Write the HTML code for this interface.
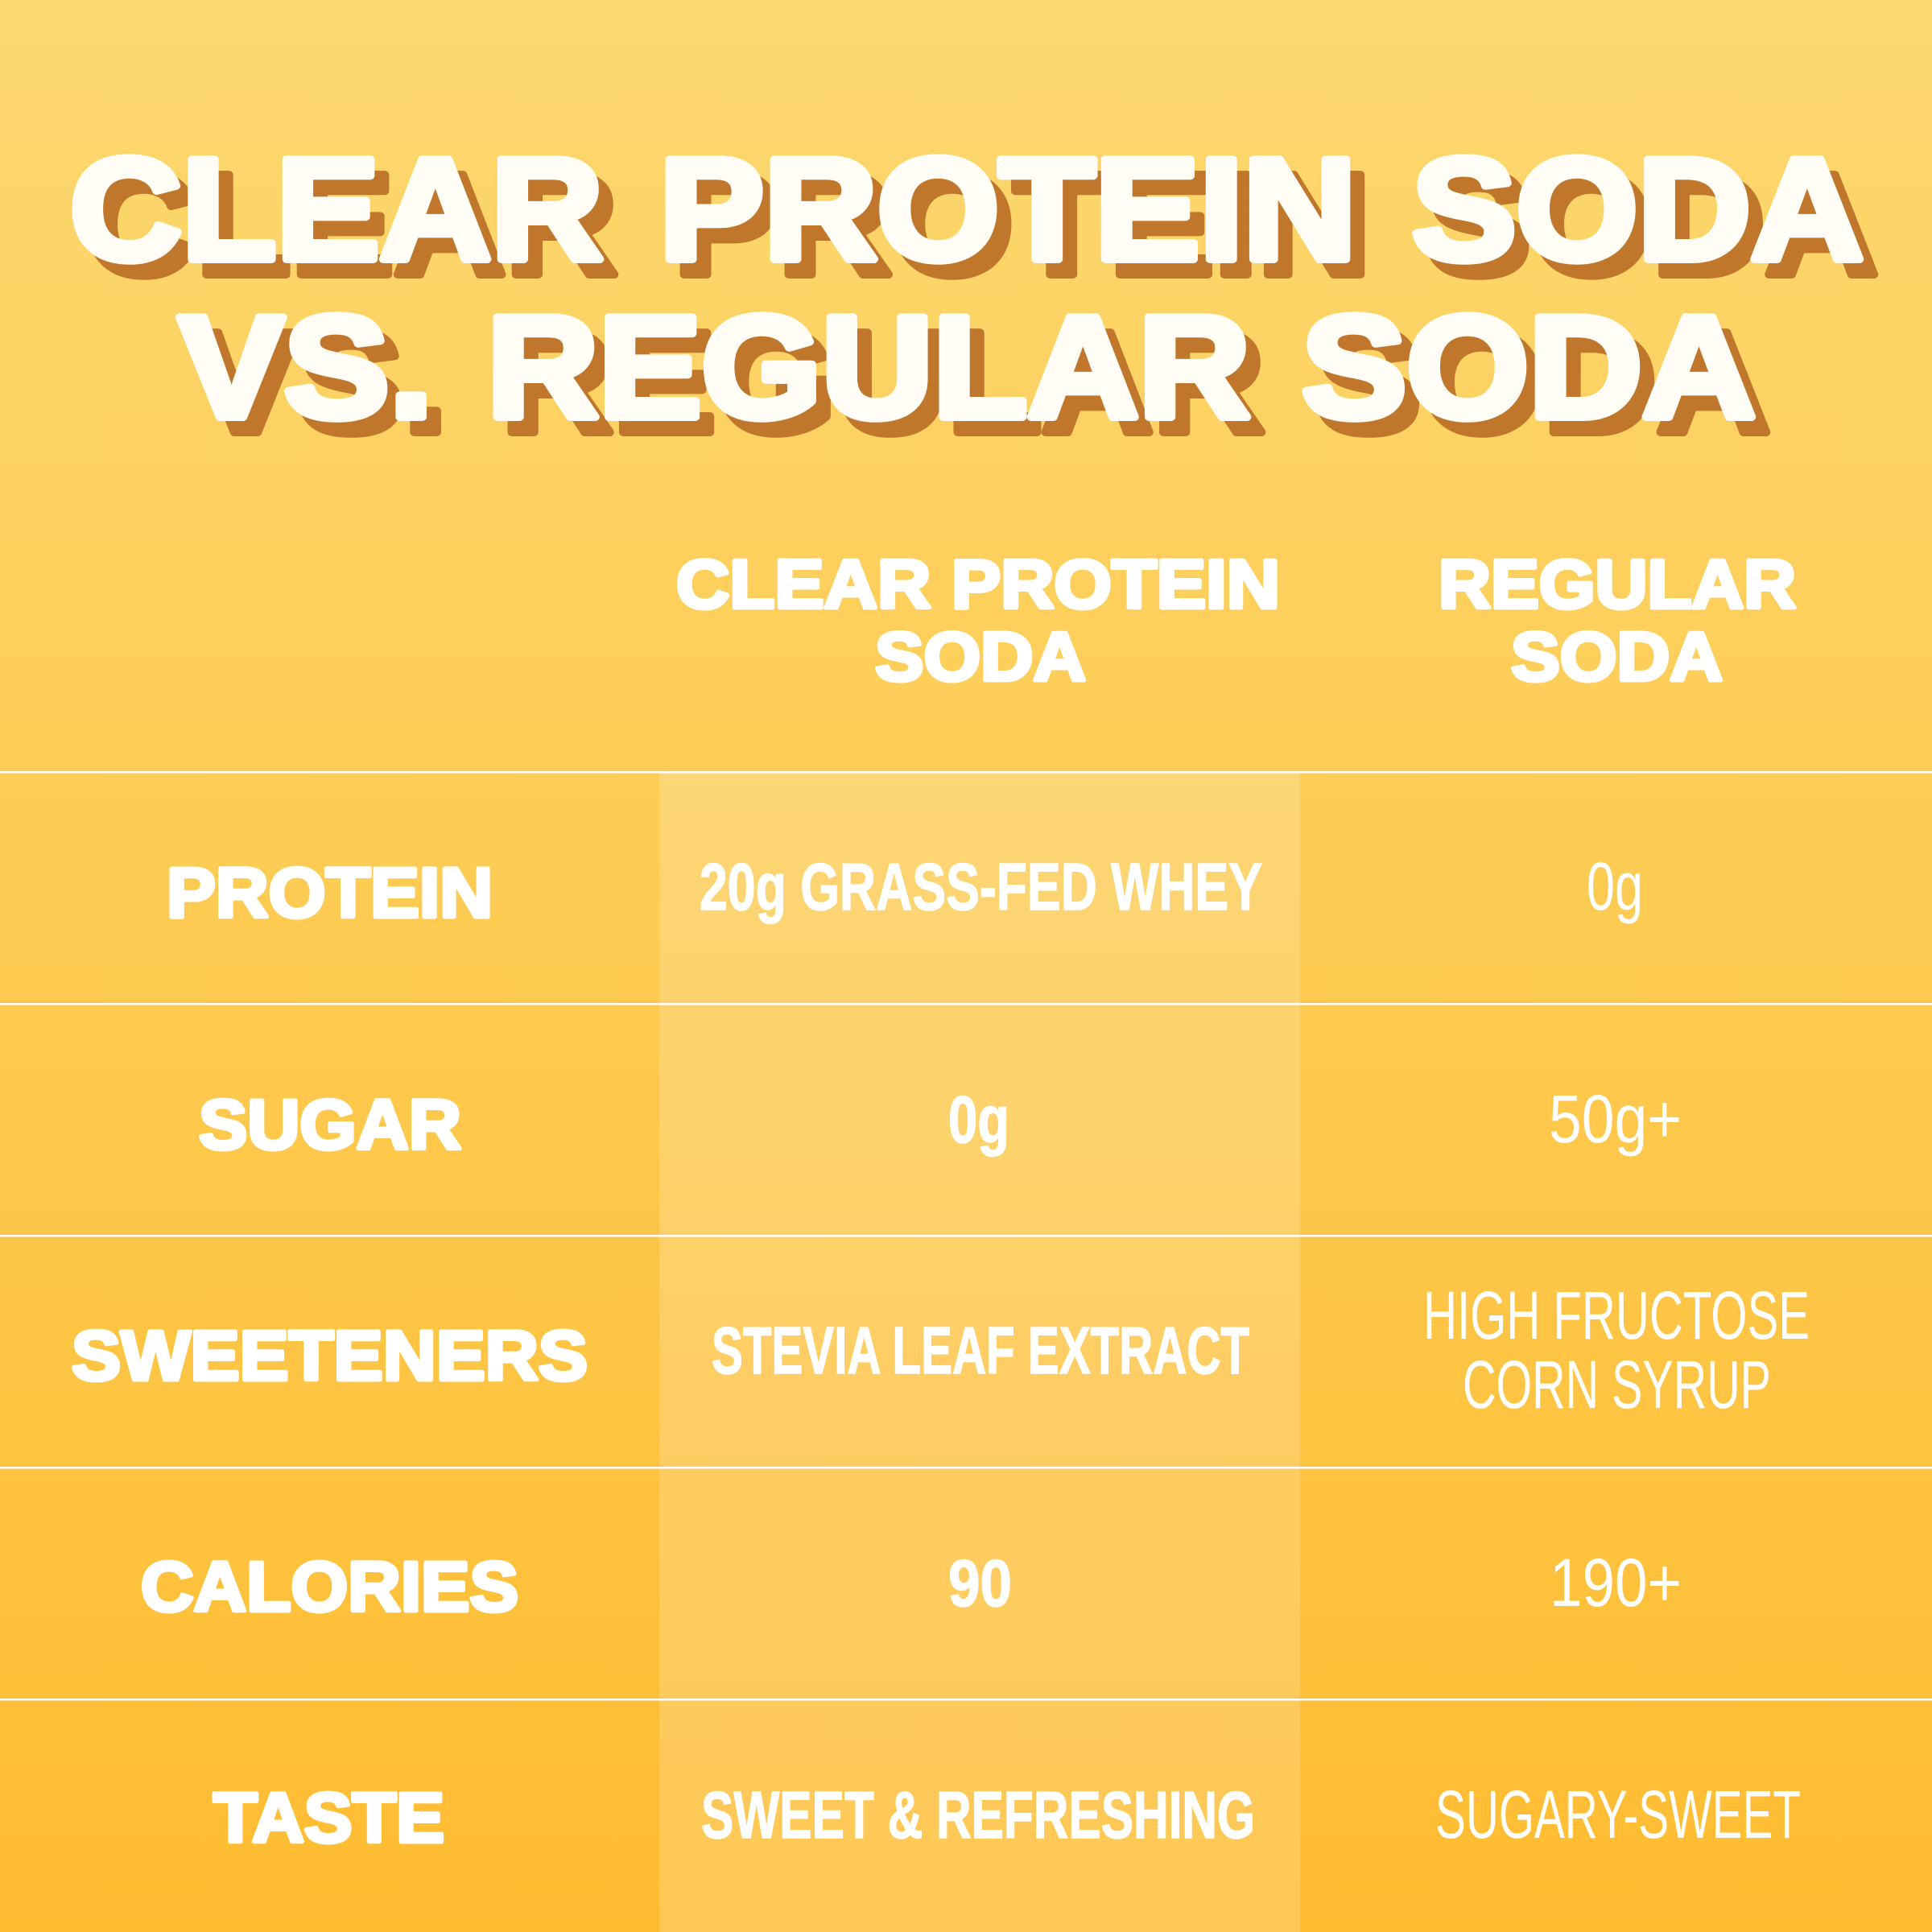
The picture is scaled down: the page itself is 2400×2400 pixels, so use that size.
<!DOCTYPE html>
<html>
<head>
<meta charset="utf-8">
<style>
  html, body { margin: 0; padding: 0; }
  body { width: 2400px; height: 2400px; overflow: hidden; background: #FDCB55; }
  svg { display: block; }
  .title { font-family: "Liberation Sans", Arial, sans-serif; font-weight: 700; font-size: 180px; }
  .hdr { font-family: "Liberation Sans", Arial, sans-serif; font-weight: 700; font-size: 85px; fill: #fff; stroke: #fff; stroke-width: 5; stroke-linejoin: round; }
  .lbl { font-family: "Liberation Sans", Arial, sans-serif; font-weight: 700; font-size: 87px; fill: #fff; stroke: #fff; stroke-width: 5; stroke-linejoin: round; }
  .mid { font-family: "Liberation Sans Narrow", "Liberation Sans", Arial, sans-serif; font-weight: 700; font-size: 83px; fill: #fff; stroke: #fff; stroke-width: 1.5; }
  .rgt { font-family: "Liberation Sans Narrow", "Liberation Sans", Arial, sans-serif; font-weight: 400; font-size: 84px; fill: #fff; }
</style>
</head>
<body>
<svg width="2400" height="2400" viewBox="0 0 2400 2400" xmlns="http://www.w3.org/2000/svg">
  <defs>
    <linearGradient id="bg" x1="0" y1="0" x2="0" y2="1">
      <stop offset="0" stop-color="#FCD870"/>
      <stop offset="0.4" stop-color="#FDCD57"/>
      <stop offset="1" stop-color="#FFBC31"/>
    </linearGradient>
  </defs>
  <rect x="0" y="0" width="2400" height="2400" fill="url(#bg)"/>
  <!-- middle column highlight -->
  <rect x="819" y="960" width="796" height="1440" fill="#ffffff" fill-opacity="0.18"/>

  <!-- row lines -->
  <rect x="0" y="958" width="2400" height="2.5" fill="#ffffff"/>
  <rect x="0" y="1246" width="2400" height="2.5" fill="#ffffff"/>
  <rect x="0" y="1534" width="2400" height="2.5" fill="#ffffff"/>
  <rect x="0" y="1822" width="2400" height="2.5" fill="#ffffff"/>
  <rect x="0" y="2110" width="2400" height="2.5" fill="#ffffff"/>

  <!-- Title shadow -->
  <g class="title" fill="#C0772C" stroke="#C0772C" stroke-width="10" stroke-linejoin="round">
    <text x="105" y="341" textLength="662" lengthAdjust="spacingAndGlyphs">CLEAR</text>
    <text x="837" y="341" textLength="866" lengthAdjust="spacingAndGlyphs">PROTEIN</text>
    <text x="1772" y="341" textLength="561" lengthAdjust="spacingAndGlyphs">SODA</text>
    <text x="240" y="537" textLength="316" lengthAdjust="spacingAndGlyphs">VS.</text>
    <text x="623" y="537" textLength="948" lengthAdjust="spacingAndGlyphs">REGULAR</text>
    <text x="1635" y="537" textLength="564" lengthAdjust="spacingAndGlyphs">SODA</text>
  </g>
  <!-- Title -->
  <g class="title" fill="#FFFDF6" stroke="#FFFDF6" stroke-width="10" stroke-linejoin="round">
    <text x="87" y="322" textLength="662" lengthAdjust="spacingAndGlyphs">CLEAR</text>
    <text x="819" y="322" textLength="866" lengthAdjust="spacingAndGlyphs">PROTEIN</text>
    <text x="1754" y="322" textLength="561" lengthAdjust="spacingAndGlyphs">SODA</text>
    <text x="222" y="518" textLength="316" lengthAdjust="spacingAndGlyphs">VS.</text>
    <text x="605" y="518" textLength="948" lengthAdjust="spacingAndGlyphs">REGULAR</text>
    <text x="1617" y="518" textLength="564" lengthAdjust="spacingAndGlyphs">SODA</text>
  </g>

  <!-- Column headers -->
  <text class="hdr" x="840" y="755" textLength="750" lengthAdjust="spacingAndGlyphs">CLEAR PROTEIN</text>
  <text class="hdr" x="1087" y="845" textLength="262" lengthAdjust="spacingAndGlyphs">SODA</text>
  <text class="hdr" x="1787" y="755" textLength="444" lengthAdjust="spacingAndGlyphs">REGULAR</text>
  <text class="hdr" x="1877" y="845" textLength="263" lengthAdjust="spacingAndGlyphs">SODA</text>

  <!-- Row labels -->
  <text class="lbl" x="207" y="1139" textLength="405" lengthAdjust="spacingAndGlyphs">PROTEIN</text>
  <text class="lbl" x="247" y="1427" textLength="326" lengthAdjust="spacingAndGlyphs">SUGAR</text>
  <text class="lbl" x="89" y="1714" textLength="641" lengthAdjust="spacingAndGlyphs">SWEETENERS</text>
  <text class="lbl" x="175" y="2001" textLength="469" lengthAdjust="spacingAndGlyphs">CALORIES</text>
  <text class="lbl" x="265" y="2288" textLength="287" lengthAdjust="spacingAndGlyphs">TASTE</text>

  <!-- Middle column -->
  <text class="mid" x="869" y="1130" textLength="699" lengthAdjust="spacingAndGlyphs">20g GRASS-FED WHEY</text>
  <text class="mid" x="1178" y="1419" textLength="76" lengthAdjust="spacingAndGlyphs">0g</text>
  <text class="mid" x="884" y="1706" textLength="668" lengthAdjust="spacingAndGlyphs">STEVIA LEAF EXTRACT</text>
  <text class="mid" x="1178" y="1995" textLength="79" lengthAdjust="spacingAndGlyphs">90</text>
  <text class="mid" x="871" y="2283" textLength="688" lengthAdjust="spacingAndGlyphs">SWEET &amp; REFRESHING</text>

  <!-- Right column -->
  <text class="rgt" x="1971" y="1130" textLength="70" lengthAdjust="spacingAndGlyphs">0g</text>
  <text class="rgt" x="1924" y="1419" textLength="165" lengthAdjust="spacingAndGlyphs">50g+</text>
  <text class="rgt" x="1768" y="1663" textLength="480" lengthAdjust="spacingAndGlyphs">HIGH FRUCTOSE</text>
  <text class="rgt" x="1817" y="1749" textLength="383" lengthAdjust="spacingAndGlyphs">CORN SYRUP</text>
  <text class="rgt" x="1925" y="1995" textLength="164" lengthAdjust="spacingAndGlyphs">190+</text>
  <text class="rgt" x="1783" y="2283" textLength="454" lengthAdjust="spacingAndGlyphs">SUGARY-SWEET</text>
</svg>
</body>
</html>
